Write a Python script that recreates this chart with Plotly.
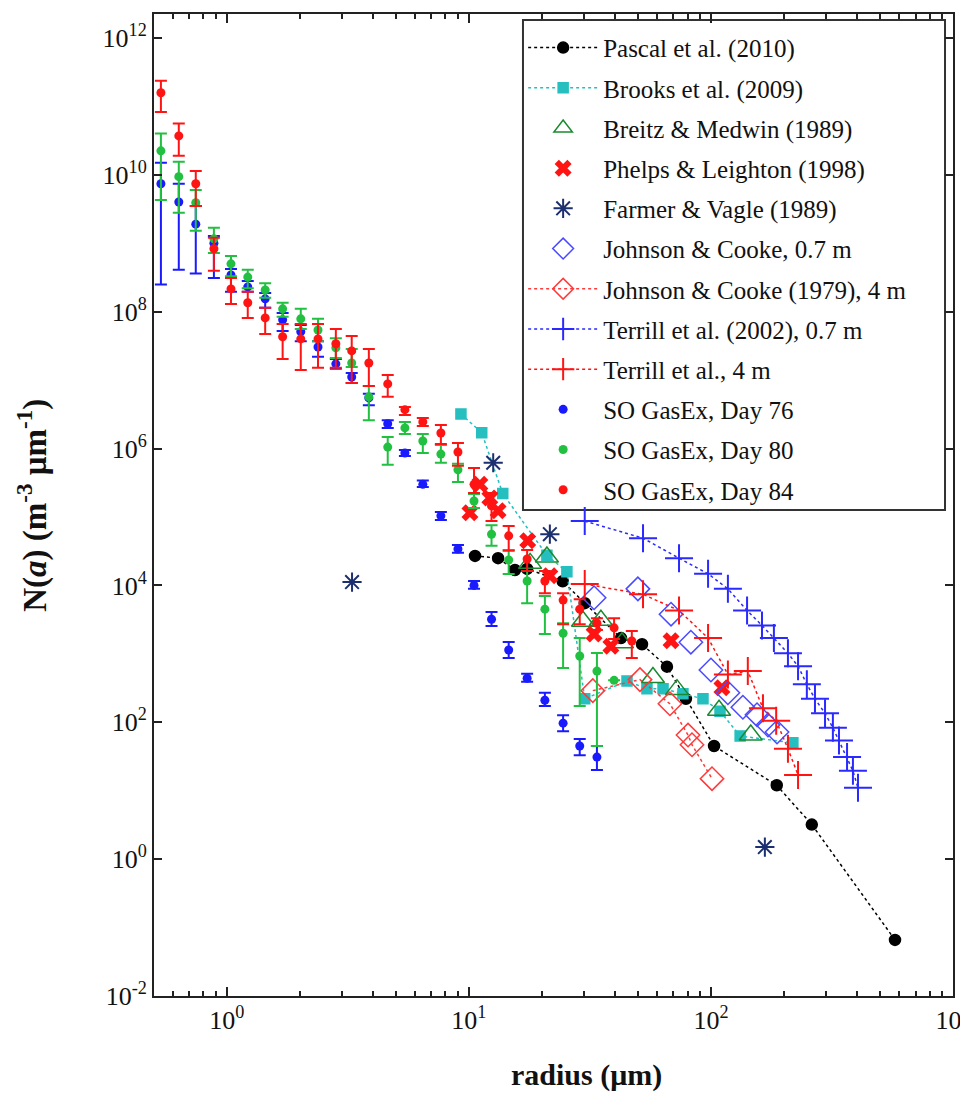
import plotly.graph_objects as go

# --- data ---
radius_so = [0.534, 0.633, 0.744, 0.884, 1.04, 1.22, 1.44, 1.70, 2.02, 2.38, 2.82, 3.28, 3.86, 4.62,
             5.44, 6.45, 7.66, 9.01, 10.5, 12.4, 14.6, 17.4, 20.6, 24.5, 28.7, 33.8, 39.8, 47.1]

day76 = [7.4e9, 4.0e9, 1.9e9, 1.0e9, 3.45e8, 2.3e8, 1.54e8, 7.6e7, 5.1e7, 3.05e7, 1.73e7, 1.11e7, 5.5e6,
         2.3e6, 8.6e5, 3.0e5, 1.04e5, 3.4e4, 1.0e4, 3.2e3, 1.14e3, 440, 210, 97, 45, 31]
day76_hi = [1.5e10, 7.4e9, 3.5e9, 1.28e9, 4.2e8, 2.8e8, 1.88e8, 9.6e7, 6.4e7, 3.7e7, 2.04e7, 1.27e7, 6.3e6,
            2.6e6, 9.5e5, 3.4e5, 1.18e5, 3.9e4, 1.16e4, 4.1e3, 1.49e3, 510, 270, 127, 57, 45]
day76_lo = [2.5e8, 4.1e8, 3.6e8, 3.1e8, 1.95e8, 1.95e8, 1.14e8, 5.2e7, 3.7e7, 2.2e7, 1.46e7, 9.1e6, 4.3e6,
            2.0e6, 7.8e5, 2.75e5, 9.0e4, 3.0e4, 8.9e3, 2.55e3, 870, 390, 173, 74, 33, 20]

day80 = [2.24e10, 9.4e9, 3.9e9, 1.16e9, 5.0e8, 3.2e8, 2.08e8, 1.1e8, 7.85e7, 5.4e7, 2.96e7, 1.78e7, 5.7e6,
         1.05e6, 2.0e6, 1.29e6, 8.3e5, 4.9e5, 1.71e5, 5.6e4, 2.35e4, 1.16e4, 4.5e3, 2.0e3, 930, 560, 410]
day80_hi = [4.0e10, 1.55e10, 6.0e9, 1.68e9, 6.5e8, 4.1e8, 2.6e8, 1.35e8, 1.1e8, 7.85e7, 4.1e7, 2.86e7, 8.2e6,
            1.48e6, 2.45e6, 1.63e6, 1.13e6, 6.0e5, 2.17e5, 7.6e4, 3.3e4, 1.62e4, 7.0e3, 2.8e3, 1.7e3, 1.03e3, 410]
day80_lo = [4.3e9, 2.8e9, 1.52e9, 7.2e8, 3.3e8, 2.2e8, 1.6e8, 8.4e7, 5.6e7, 3.7e7, 2.1e7, 1.56e7, 2.6e6,
            5.8e5, 1.63e6, 8.6e5, 6.2e5, 3.25e5, 1.35e5, 3.8e4, 1.47e4, 5.5e3, 1.95e3, 620, 173, 45, 410]

day84 = [1.58e11, 3.7e10, 7.4e9, 8.3e8, 2.15e8, 1.35e8, 8.1e7, 4.3e7, 4.0e7, 4.0e7, 3.4e7, 2.67e7, 1.78e7,
         8.8e6, 3.7e6, 2.45e6, 1.69e6, 8.9e5, 3.0e5, 1.45e5, 5.3e4, 2.43e4, 1.16e4, 6.1e3, 4.5e3, 2.8e3, 2.4e3, 1.54e3]
day84_hi = [2.37e11, 5.6e10, 1.14e10, 1.2e9, 3.1e8, 1.95e8, 1.14e8, 6.6e7, 6.6e7, 6.6e7, 5.6e7, 4.4e7, 2.86e7,
            1.19e7, 4.06e6, 2.8e6, 2.2e6, 1.21e6, 5.2e5, 2.24e5, 7.4e4, 3.3e4, 1.62e4, 7.7e3, 6.3e3, 3.3e3, 3.3e3, 2.15e3]
day84_lo = [8.3e10, 1.9e10, 3.5e9, 3.95e8, 1.3e8, 8.1e7, 4.7e7, 2.04e7, 1.41e7, 1.51e7, 1.51e7, 9.1e6, 8.2e6,
            5.7e6, 3.1e6, 2.14e6, 1.17e6, 5.6e5, 2.24e5, 8.7e4, 3.2e4, 1.62e4, 7.7e3, 2.7e3, 2.7e3, 2.23e3, 1.65e3, 870]

pascal_r = [10.6, 13.2, 15.5, 17.4, 24.4, 30.1, 42.5, 51.9, 65.8, 78.8, 103, 187, 261, 576]
pascal_n = [2.7e4, 2.5e4, 1.68e4, 1.74e4, 1.15e4, 5.5e3, 1.7e3, 1.38e3, 650, 220, 45, 12, 3.2, 0.066]

brooks_r = [9.27, 11.3, 13.8, 21.0, 25.4, 30.1, 45.0, 54.4, 63.4, 76.6, 92.7, 109, 132, 218]
brooks_n = [3.2e6, 1.7e6, 2.2e5, 2.75e4, 1.58e4, 220, 400, 310, 310, 260, 220, 145, 63, 50]

breitz_r = [17.9, 21.0, 29.6, 35.1, 42.9, 57.6, 72.4, 108, 146]
breitz_n = [2.1e4, 2.6e4, 3.0e3, 3.1e3, 1.45e3, 450, 300, 150, 65]

phelps_r = [10.1, 11.1, 12.2, 13.2, 17.5, 21.6, 32.9, 38.6, 68.4, 111]
phelps_n = [1.15e5, 3.0e5, 1.9e5, 1.23e5, 4.5e4, 1.38e4, 1.95e3, 1.29e3, 1.55e3, 320]

farmer_r = [3.29, 12.6, 21.6, 167]
farmer_n = [1.12e4, 6.2e5, 5.6e4, 1.5]

jc07_r = [32.9, 49.9, 68.4, 82.6, 100, 117.5, 135.5, 155, 172, 187.5]
jc07_n = [6.6e3, 8.9e3, 3.8e3, 1.48e3, 580, 270, 166, 129, 91, 72]

jc4_r = [32.5, 50.9, 67.7, 80.4, 83.5, 101]
jc4_n = [290, 420, 186, 65, 47, 15]

terrill07_r = [30.1, 52.4, 73.8, 97.3, 117.5, 141, 162.5, 182, 208, 229, 249, 269, 296, 319, 338, 365, 386, 405]
terrill07_n = [8.7e4, 4.9e4, 2.5e4, 1.48e4, 8.9e3, 4.3e3, 2.6e3, 1.7e3, 1.02e3, 660, 360, 220, 135, 83, 54, 31, 19.5, 11]

terrill4_r = [30.1, 52.4, 73.8, 97.3, 117.5, 142, 164, 186, 208, 229]
terrill4_n = [1.05e4, 7.4e3, 4.3e3, 1.7e3, 500, 560, 160, 105, 41, 17]

FONT = "Liberation Serif"
RED = "#ff1414"
BLUE = "#1a1aff"
GREEN = "#22c040"

fig = go.Figure()

def line_trace(x, y, name, color, symbol, size, dotted=True, lw=1.5):
    fig.add_trace(go.Scatter(
        x=x, y=y, name=name, legendgroup=name,
        mode="lines+markers" if dotted else "markers",
        line=dict(color=color, dash="dot", width=1.5),
        marker=dict(symbol=symbol, size=size, color=color, line=dict(color=color, width=lw)),
    ))

line_trace(pascal_r, pascal_n, "Pascal et al. (2010)", "black", "circle", 11)
line_trace(brooks_r, brooks_n, "Brooks et al. (2009)", "#25bfbf", "square", 10)
line_trace(breitz_r, breitz_n, "Breitz & Medwin (1989)", "#1a8a30", "triangle-up-open", 20, dotted=False)
line_trace(phelps_r, phelps_n, "Phelps & Leighton (1998)", RED, "x", 15, dotted=False, lw=0)
line_trace(farmer_r, farmer_n, "Farmer & Vagle (1989)", "#1c2f6e", "asterisk-open", 16, dotted=False, lw=2)
line_trace(jc07_r, jc07_n, "Johnson & Cooke, 0.7 m", "#4a4aff", "diamond-open", 18, dotted=False)
line_trace(jc4_r, jc4_n, "Johnson & Cooke (1979), 4 m", "#ff3a3a", "diamond-open", 18)
line_trace(terrill07_r, terrill07_n, "Terrill et al. (2002), 0.7 m", "#2a2aff", "cross-thin-open", 20, lw=2)
line_trace(terrill4_r, terrill4_n, "Terrill et al., 4 m", RED, "cross-thin-open", 20, lw=2)

def so_trace(y, hi, lo, name, color):
    n = len(y)
    fig.add_trace(go.Scatter(
        x=radius_so[:n], y=y, name=name, legendgroup=name, mode="markers",
        marker=dict(symbol="circle", size=9, color=color),
        error_y=dict(type="data", symmetric=False,
                     array=[h - v for h, v in zip(hi, y)],
                     arrayminus=[v - l for v, l in zip(y, lo)],
                     color=color, thickness=2, width=6),
    ))

so_trace(day76, day76_hi, day76_lo, "SO GasEx, Day 76", BLUE)
so_trace(day80, day80_hi, day80_lo, "SO GasEx, Day 80", GREEN)
so_trace(day84, day84_hi, day84_lo, "SO GasEx, Day 84", RED)

xt = [1, 10, 100, 1000]
yt = [1e-2, 1, 1e2, 1e4, 1e6, 1e8, 1e10, 1e12]

fig.update_xaxes(
    type="log", range=[-0.301, 3], showgrid=False, zeroline=False, automargin=False,
    showline=True, linecolor="#222", linewidth=2, mirror="allticks",
    ticks="inside", ticklen=9, tickwidth=1.5, tickcolor="#222",
    tickvals=xt, ticktext=["10<sup>%d</sup>" % e for e in range(0, 4)],
    tickfont=dict(family=FONT, size=26, color="#111"), ticklabeloverflow="allow",
    minor=dict(ticks="inside", ticklen=5, tickwidth=1.5, tickcolor="#222", dtick="D1", showgrid=False),
)
fig.update_yaxes(
    type="log", range=[-2, 12.35], showgrid=False, zeroline=False, automargin=False,
    showline=True, linecolor="#222", linewidth=2, mirror="allticks",
    ticks="inside", ticklen=8, tickwidth=1.5, tickcolor="#222",
    tickvals=yt, ticktext=["10<sup>%d</sup>" % e for e in range(-2, 13, 2)],
    tickfont=dict(family=FONT, size=26, color="#111"), ticklabeloverflow="allow",
)

# axis titles
fig.add_annotation(text="<b>radius (μm)</b>", xref="paper", yref="paper", x=0.5407, y=-0.0804,
                   showarrow=False, xanchor="center", yanchor="middle",
                   font=dict(family=FONT, size=30, color="#111"))
fig.add_annotation(text="<b>N(<i>a</i>) (m<sup>-3</sup> μm<sup>-1</sup>)</b>", xref="paper", yref="paper",
                   x=-0.153, y=0.5, textangle=-90, showarrow=False, xanchor="center", yanchor="middle",
                   font=dict(family=FONT, size=33, color="#111"))

# legend frame
fig.add_shape(type="rect", xref="paper", yref="paper", x0=0.4618, x1=0.990, y0=0.4949, y1=0.9939,
              line=dict(color="#333", width=2), fillcolor="white", layer="below")

# the page puts the figure 8 px in from the top-left corner
fig.update_layout(
    width=960, height=1086,
    margin=dict(l=146, r=15, t=6, b=98),
    paper_bgcolor="white", plot_bgcolor="white",
    font=dict(family=FONT, size=25, color="#111"),
    legend=dict(x=0.462, y=0.989, xanchor="left", yanchor="top",
                bgcolor="rgba(0,0,0,0)", borderwidth=0,
                font=dict(family=FONT, size=25, color="#111"),
                itemwidth=70, tracegroupgap=4.7, traceorder="grouped"),
)

fig.write_html("out.html")
